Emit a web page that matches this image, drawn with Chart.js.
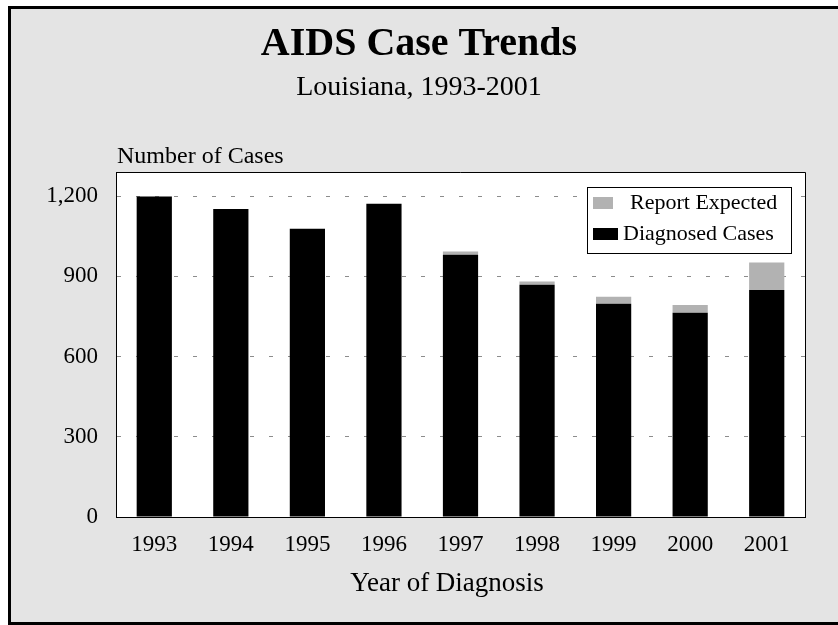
<!DOCTYPE html>
<html lang="en">
<head>
  <meta charset="UTF-8">
  <title>AIDS Case Trends</title>
  <style>
    html, body {
      margin: 0;
      background: #ffffff;
      overflow: hidden;
    }
    #chart {
      display: block;
    }
  </style>
</head>
<body>
  <canvas id="chart" width="838" height="625"></canvas>

  <script src="https://cdn.jsdelivr.net/npm/chart.js@4.4.0/dist/chart.umd.min.js"></script>
  <script>
  const years = ['1993', '1994', '1995', '1996', '1997', '1998', '1999', '2000', '2001']
  const diagnosedCases = [1198, 1152, 1078, 1171, 981, 868, 797, 764, 849]
  const reportExpected = [0, 0, 0, 0, 12, 13, 27, 29, 103]
  const yTicks = [0, 300, 600, 900, 1200]
  const yMax = 1290

  const serif = '"Liberation Serif", "Times New Roman", serif'

  // gray page with black frame (right edge runs off the picture),
  // white plot area, then thin frame on top and right of the plot
  const plotFrame = {
    id: 'plotFrame',
    beforeDraw(chart) {
      const { ctx, chartArea: a, width, height } = chart
      ctx.save()
      ctx.fillStyle = '#fff'
      ctx.fillRect(0, 0, width, height)
      ctx.fillStyle = '#000'
      ctx.fillRect(8, 6, width, height)
      ctx.fillStyle = '#e4e4e4'
      ctx.fillRect(11, 9, width, height - 12)
      ctx.fillStyle = '#ffffff'
      ctx.fillRect(a.left, a.top, a.right - a.left, a.bottom - a.top)
      ctx.restore()
    },
    afterDraw(chart) {
      const { ctx, chartArea: a } = chart
      ctx.save()
      ctx.strokeStyle = '#000'
      ctx.lineWidth = 1
      ctx.beginPath()
      ctx.moveTo(a.left, a.top + 0.5)
      ctx.lineTo(a.right + 0.5, a.top + 0.5)
      ctx.lineTo(a.right + 0.5, a.bottom)
      ctx.stroke()
      ctx.restore()
    }
  }

  const headings = {
    id: 'headings',
    afterDraw(chart) {
      const ctx = chart.ctx
      ctx.save()
      ctx.fillStyle = '#000'
      ctx.textBaseline = 'middle'
      ctx.textAlign = 'center'
      ctx.font = 'bold 40px ' + serif
      ctx.fillText('AIDS Case Trends', 419, 45)
      ctx.font = '28px ' + serif
      ctx.fillText('Louisiana, 1993-2001', 419, 88)
      ctx.font = '27px ' + serif
      ctx.fillText('Year of Diagnosis', 447, 584)
      ctx.textAlign = 'left'
      ctx.font = '24px ' + serif
      ctx.fillText('Number of Cases', 117, 157)
      ctx.restore()
    }
  }

  // legend box sits inside the plot, top right
  const boxLegend = {
    id: 'boxLegend',
    afterDraw(chart) {
      const ctx = chart.ctx
      const items = chart.data.datasets.slice().reverse()
      ctx.save()
      ctx.fillStyle = '#fff'
      ctx.fillRect(587, 187, 204, 66)
      ctx.strokeStyle = '#000'
      ctx.lineWidth = 1
      ctx.strokeRect(587.5, 187.5, 204, 66)
      ctx.font = '22px ' + serif
      ctx.textBaseline = 'middle'
      ctx.textAlign = 'left'
      const rows = [{ y: 203, tx: 630, sw: 20 }, { y: 234, tx: 623, sw: 25 }]
      items.forEach((ds, i) => {
        const r = rows[i]
        ctx.fillStyle = ds.backgroundColor
        ctx.fillRect(593, r.y - 6, r.sw, 12)
        ctx.fillStyle = '#000'
        ctx.fillText(ds.label, r.tx, r.y)
      })
      ctx.restore()
    }
  }

  new Chart(document.getElementById('chart'), {
    type: 'bar',
    data: {
      labels: years,
      datasets: [
        {
          label: 'Diagnosed Cases',
          data: diagnosedCases,
          backgroundColor: '#000000',
          barPercentage: 0.46,
          categoryPercentage: 1
        },
        {
          label: 'Report Expected',
          data: reportExpected,
          backgroundColor: '#b2b2b2',
          barPercentage: 0.46,
          categoryPercentage: 1
        }
      ]
    },
    options: {
      responsive: false,
      animation: false,
      devicePixelRatio: 1,
      layout: {
        padding: { left: 0, right: 33, top: 172, bottom: 0 }
      },
      scales: {
        x: {
          stacked: true,
          grid: { display: false, drawTicks: false },
          border: { color: '#000', width: 1 },
          ticks: {
            color: '#000',
            padding: 14,
            font: { family: serif, size: 23 }
          },
          afterFit(scale) { scale.height = 108 }
        },
        y: {
          stacked: true,
          min: 0,
          max: yMax,
          grid: { color: '#8c8c8c', lineWidth: 1, drawTicks: false },
          border: { color: '#000', width: 1, dash: [4, 15] },
          ticks: {
            color: '#000',
            padding: 18,
            font: { family: serif, size: 23 }
          },
          afterBuildTicks(scale) {
            scale.ticks = yTicks.map(v => ({ value: v }))
          },
          afterFit(scale) { scale.width = 116 }
        }
      },
      plugins: {
        legend: { display: false },
        title: { display: false },
        tooltip: { enabled: false }
      }
    },
    plugins: [plotFrame, headings, boxLegend]
  })
  </script>
</body>
</html>
